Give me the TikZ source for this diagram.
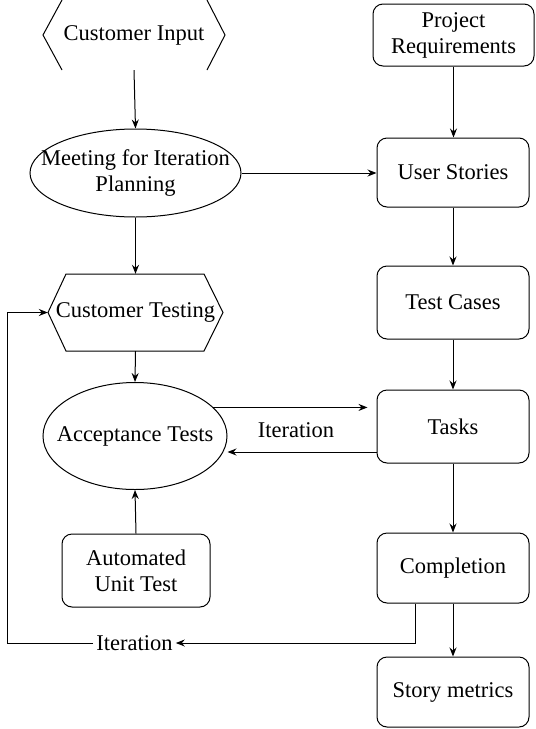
\documentclass[tikz,border=0pt]{standalone}
\usepackage{fontspec}
\setmainfont{Liberation Serif}
\usetikzlibrary{shapes.geometric,arrows.meta,calc}
\begin{document}
\begin{tikzpicture}[x=1pt,y=-1pt,
  every node/.style={font=\fontsize{22.5}{26}\selectfont, align=center},
  ln/.style={line width=1pt},
  arr/.style={line width=1pt,-{Stealth[length=9pt,width=7pt,inset=3pt]}},
  rbox/.style={draw, line width=1pt, rectangle, rounded corners=10pt, minimum width=152pt, inner sep=0pt},
  ell/.style={draw, line width=1pt, ellipse, inner sep=0pt},
  hexlabel/.style={inner sep=0pt}]
\useasboundingbox (0,0) rectangle (536,729);

% Customer Input (open hexagon sides)
\node[hexlabel, minimum width=182pt, minimum height=70pt] (cin) at (134,35) {Customer Input};
\draw[ln] (62,0) -- (43,35) -- (62,70);
\draw[ln] (207,0) -- (225,35) -- (207,70);

% Right column
\node[rbox, minimum width=161pt, minimum height=62pt] (preq) at (453.5,35) {Project\\Requirements};
\node[rbox, minimum height=69pt] (us) at (453,172.5) {User Stories};
\node[rbox, minimum height=73pt] (tc) at (453,302.5) {Test Cases};
\node[rbox, minimum height=73pt] (tasks) at (453,426.5) {Tasks};
\node[rbox, minimum height=70pt] (comp) at (453,568) {Completion};
\node[rbox, minimum height=70pt] (sm) at (453,692) {Story metrics};

% Left column
\node[ell, minimum width=211pt, minimum height=88pt] (meet) at (135.5,173) {};
\node[inner sep=0pt] (meettxt) at (meet.center) {Meeting for Iteration\\Planning};
\draw[ln] (66,274) -- (204,274) -- (223,312.5) -- (204,351) -- (66,351) -- (48,312.5) -- cycle;
\node[hexlabel, minimum width=175pt, minimum height=77pt] (ct) at (135.5,312.5) {Customer Testing};
\node[ell, minimum width=184pt, minimum height=107pt] (acc) at (135,436) {};
\node[inner sep=0pt] (acctxt) at (acc.center) {Acceptance Tests};
\node[rbox, minimum width=148pt, minimum height=73pt] (aut) at (136,570.5) {Automated\\Unit Test};

\node[inner sep=0pt] (itlab) at (296,430) {Iteration};
\node[inner sep=3pt] (iter2) at (134.5,643) {Iteration};
\coordinate (lp) at (7,312.5);

% Connectors
\draw[arr] (cin.south) -- (meet.north);
\draw[arr] (preq.south) -- (preq.south |- us.north);
\draw[arr] (meet.east) -- (meet.east -| us.west);
\draw[arr] (meet.south) -- (ct.north);
\draw[arr] (us.south) -- (tc.north);
\draw[arr] (tc.south) -- (tasks.north);
\draw[arr] (tasks.south) -- (comp.north);
\draw[arr] (comp.south) -- (sm.north);
\draw[arr] (ct.south) -- (acc.north);
\draw[arr] (aut.north) -- (acc.south);
\draw[arr, shorten >=9pt] (acc.20) -- (acc.20 -| tasks.west);
\draw[arr] ([yshift=-25.5pt]tasks.west) -- ([yshift=-25.5pt]tasks.west -| acc.east);
\draw[arr] ([xshift=-38pt]comp.south) |- (iter2.east);
\draw[arr] (iter2.west) -| (lp) -- (ct.west);
\end{tikzpicture}
\end{document}
